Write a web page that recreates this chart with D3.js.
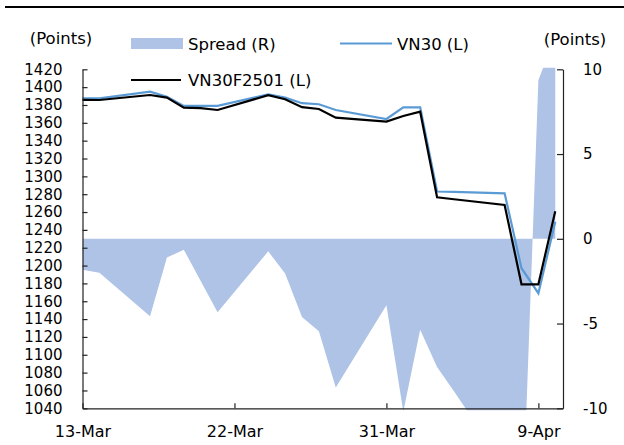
<!DOCTYPE html>
<html><head><meta charset="utf-8">
<script src="https://cdn.jsdelivr.net/npm/d3@7"></script>
<style>body{margin:0;background:#fff}svg{display:block;font-family:"DejaVu Sans",sans-serif}</style>
</head><body><svg id="c" width="624" height="445"></svg>
<script>
const dates = ["2025-03-13","2025-03-14","2025-03-17","2025-03-18","2025-03-19","2025-03-20","2025-03-21",
"2025-03-24","2025-03-25","2025-03-26","2025-03-27","2025-03-28","2025-03-31",
"2025-04-01","2025-04-02","2025-04-03","2025-04-04","2025-04-07","2025-04-08","2025-04-09","2025-04-10"];
const vn30 = [1387.5,1387.5,1395,1389.3,1378.9,1378.9,1379,1392,1388.2,1382,1380.8,1374.4,1364.3,1377.4,1377.4,1283,1282.5,1281,1197,1169,1249];
const vn30f = [1385.7,1385.6,1391.2,1388.2,1377,1376.5,1374.4,1391,1386.4,1377.5,1375.5,1365.8,1361.3,1367.7,1372.5,1276.5,1274.3,1268,1179,1179,1261];
const spread = [-1.82,-2.0,-4.57,-1.11,-0.64,-2.49,-4.34,-0.74,-2.05,-4.61,-5.46,-8.78,-3.92,-10.2,-5.36,-7.56,-9.0,-13.4,-18,9.35,12];
const leftTicks = d3.range(1040,1421,20);
const rightTicks = [-10,-5,0,5,10];
const xTickDates = ["2025-03-13","2025-03-22","2025-03-31","2025-04-09"];
const xTickLabels = ["13-Mar","22-Mar","31-Mar","9-Apr"];
const legendLabels = ["Spread (R)","VN30 (L)","VN30F2501 (L)"];

const parse = d3.utcParse("%Y-%m-%d");
const data = dates.map((d,i)=>({date:parse(d),a:vn30[i],f:vn30f[i],s:spread[i]}));
const svg = d3.select("#c");
const L=82.5,R=563,T=69.3,B=408.3;
const x = d3.scaleUtc().domain([parse("2025-03-13"), new Date(Date.UTC(2025,3,10,11))]).range([L,R]);
const yL = d3.scaleLinear().domain([1040,1420]).range([B,T]);
const yR = d3.scaleLinear().domain([-10,10]).range([B,T]);

svg.append("line").attr("x1",5).attr("x2",624).attr("y1",7).attr("y2",7).attr("stroke","#000").attr("stroke-width",2);

svg.append("clipPath").attr("id","clip").append("rect").attr("x",L).attr("y",T-1.5).attr("width",R-L).attr("height",B-T+3.5);

svg.append("path").datum(data).attr("clip-path","url(#clip)")
  .attr("fill","#aec3e6")
  .attr("d",d3.area().x(d=>x(d.date)).y0(yR(0)).y1(d=>yR(d.s)));

svg.append("path").datum(data).attr("fill","none").attr("stroke","#5b9bd5").attr("stroke-width",2.2)
  .attr("stroke-linejoin","miter")
  .attr("d",d3.line().x(d=>x(d.date)).y(d=>yL(d.a)));
svg.append("path").datum(data).attr("fill","none").attr("stroke","#000").attr("stroke-width",2.2)
  .attr("d",d3.line().x(d=>x(d.date)).y(d=>yL(d.f)));

// axes
const axL = svg.append("g").attr("transform",`translate(${L},0)`)
  .call(d3.axisLeft(yL).tickValues(leftTicks).tickSizeInner(-5).tickSizeOuter(0).tickPadding(20).tickFormat(d3.format("d")));
const axR = svg.append("g").attr("transform",`translate(${R},0)`)
  .call(d3.axisRight(yR).tickValues(rightTicks).tickSizeInner(-6).tickSizeOuter(0).tickPadding(20).tickFormat(d=>d<0?"-"+Math.abs(d):d));
const axB = svg.append("g").attr("transform",`translate(0,${B})`)
  .call(d3.axisBottom(x).tickValues(xTickDates.map(parse)).tickSizeInner(-5).tickSizeOuter(0).tickPadding(17)
    .tickFormat((d,i)=>xTickLabels[i]));
[axL,axR,axB].forEach(g=>{
  g.selectAll("path.domain").attr("stroke","#222").attr("stroke-width",1.2);
  g.selectAll(".tick line").attr("stroke","#222").attr("stroke-width",1.2);
  g.selectAll("text").attr("font-family","DejaVu Sans").attr("font-size",15).attr("fill","#000");
});
axB.selectAll("text").attr("font-size",16);

// unit labels
svg.append("text").attr("x",61).attr("y",44).attr("text-anchor","middle").attr("font-size",16.5).text("(Points)");
svg.append("text").attr("x",575).attr("y",45).attr("text-anchor","middle").attr("font-size",16.5).text("(Points)");

// legend
svg.append("rect").attr("x",131).attr("y",38).attr("width",52).attr("height",11).attr("fill","#aec3e6");
svg.append("text").attr("x",188).attr("y",50).attr("font-size",16.5).text(legendLabels[0]);
svg.append("line").attr("x1",340).attr("x2",392).attr("y1",43.5).attr("y2",43.5).attr("stroke","#5b9bd5").attr("stroke-width",2.2);
svg.append("text").attr("x",397).attr("y",50).attr("font-size",16.5).text(legendLabels[1]);
svg.append("line").attr("x1",131).attr("x2",181).attr("y1",80).attr("y2",80).attr("stroke","#000").attr("stroke-width",2.2);
svg.append("text").attr("x",188).attr("y",86).attr("font-size",16.5).text(legendLabels[2]);
</script></body></html>
